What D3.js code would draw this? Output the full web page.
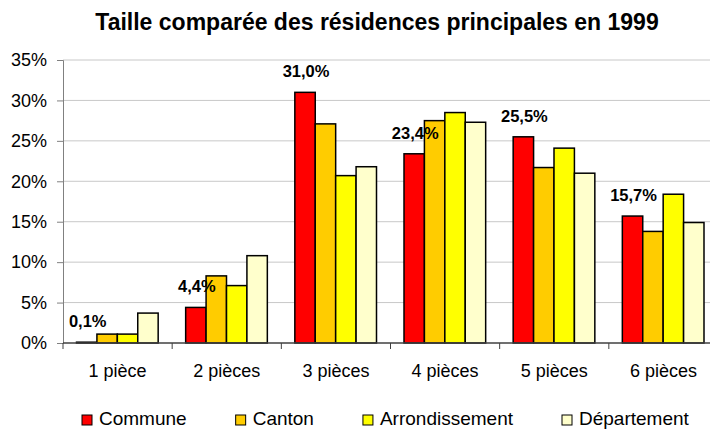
<!DOCTYPE html>
<html>
<head>
<meta charset="utf-8">
<script src="https://cdn.jsdelivr.net/npm/d3@7"></script>
<style>
  body { margin: 0; background: #fff; }
  svg { display: block; font-family: Arial, 'Liberation Sans', sans-serif; }
</style>
</head>
<body>
<div class="chart"></div>
<script>
const width = 710
const height = 430

const categories = ['1 pièce', '2 pièces', '3 pièces', '4 pièces', '5 pièces', '6 pièces']
const series = ['Commune', 'Canton', 'Arrondissement', 'Département']
const commune = [0.1, 4.4, 31.0, 23.4, 25.5, 15.7]
const canton = [1.1, 8.3, 27.1, 27.5, 21.7, 13.8]
const arrondissement = [1.1, 7.1, 20.7, 28.5, 24.1, 18.4]
const departement = [3.7, 10.8, 21.8, 27.3, 21.0, 14.9]
const yTicks = [0, 5, 10, 15, 20, 25, 30, 35]

const colors = ['#ff0000', '#ffcc00', '#ffff00', '#ffffcc']
const values = [commune, canton, arrondissement, departement]

const margin = { top: 60, left: 63, bottom: 87 }
const plotRight = 718

const svg = d3.select('.chart')
  .append('svg')
  .attr('width', width)
  .attr('height', height)

const x0 = d3.scaleBand()
  .domain(categories)
  .range([margin.left, plotRight])

const x1 = d3.scaleBand()
  .domain(series)
  .range([13.5, x0.bandwidth() - 14])

const y = d3.scaleLinear()
  .domain([0, 35])
  .range([height - margin.bottom, margin.top])

// title
svg.append('text')
  .attr('x', 377)
  .attr('y', 30)
  .attr('text-anchor', 'middle')
  .style('font-size', '23px')
  .style('font-weight', 'bold')
  .text('Taille comparée des résidences principales en 1999')

// gridlines
svg.append('g')
  .selectAll('line')
  .data(yTicks.filter(d => d > 0))
  .join('line')
  .attr('x1', margin.left)
  .attr('x2', plotRight)
  .attr('y1', d => y(d))
  .attr('y2', d => y(d))
  .attr('stroke', '#c8c8c8')
  .attr('stroke-width', 1)

// y axis
const yAxis = svg.append('g')
  .attr('transform', `translate(${margin.left},0)`)
  .call(d3.axisLeft(y).tickValues(yTicks).tickSize(6).tickPadding(10).tickFormat(d => d + '%'))
yAxis.select('.domain').attr('stroke', '#808080')
yAxis.selectAll('.tick line').attr('stroke', '#808080')
yAxis.selectAll('.tick text')
  .style('font-size', '18px')
  .style('fill', '#000')
  .style('font-family', 'Arial, Liberation Sans, sans-serif')

// bars
const groups = svg.append('g')
  .selectAll('g')
  .data(categories)
  .join('g')
  .attr('transform', d => `translate(${x0(d)},0)`)

groups.selectAll('rect')
  .data((c, i) => series.map((s, j) => ({ s, j, v: values[j][i] })))
  .join('rect')
  .attr('x', d => x1(d.s))
  .attr('width', x1.bandwidth())
  .attr('y', d => y(d.v))
  .attr('height', d => y(0) - y(d.v))
  .attr('fill', d => colors[d.j])
  .attr('stroke', '#000')
  .attr('stroke-width', 1.5)

// data labels for Commune
groups.append('text')
  .attr('x', x1('Commune') + x1.bandwidth() / 2 + 1)
  .attr('y', (c, i) => y(commune[i]) - 15)
  .attr('text-anchor', 'middle')
  .style('font-size', '16.5px')
  .style('font-weight', 'bold')
  .text((c, i) => d3.format('.1f')(commune[i]).replace('.', ',') + '%')

// x axis
const xAxis = svg.append('g')
  .attr('transform', `translate(0,${y(0)})`)
xAxis.append('line')
  .attr('x1', margin.left)
  .attr('x2', plotRight)
  .attr('stroke', '#404040')
  .attr('stroke-width', 1.5)
xAxis.selectAll('.tick')
  .data(categories)
  .join('line')
  .attr('x1', d => x0(d))
  .attr('x2', d => x0(d))
  .attr('y1', 0)
  .attr('y2', 6)
  .attr('stroke', '#404040')
xAxis.selectAll('text')
  .data(categories)
  .join('text')
  .attr('x', d => x0(d) + x0.bandwidth() / 2)
  .attr('y', 34)
  .attr('text-anchor', 'middle')
  .style('font-size', '18px')
  .text(d => d)

// legend
const legend = svg.append('g').attr('transform', 'translate(82,0)')
let lx = 0
series.forEach((s, i) => {
  const item = legend.append('g').attr('transform', `translate(${lx},0)`)
  item.append('rect')
    .attr('x', 0)
    .attr('y', 415)
    .attr('width', 10)
    .attr('height', 10)
    .attr('fill', colors[i])
    .attr('stroke', '#000')
    .attr('stroke-width', 1)
  const t = item.append('text')
    .attr('x', 17)
    .attr('y', 425)
    .style('font-size', '19px')
    .text(s)
  lx += 17 + t.node().getComputedTextLength() + 49
})
</script>
</body>
</html>
